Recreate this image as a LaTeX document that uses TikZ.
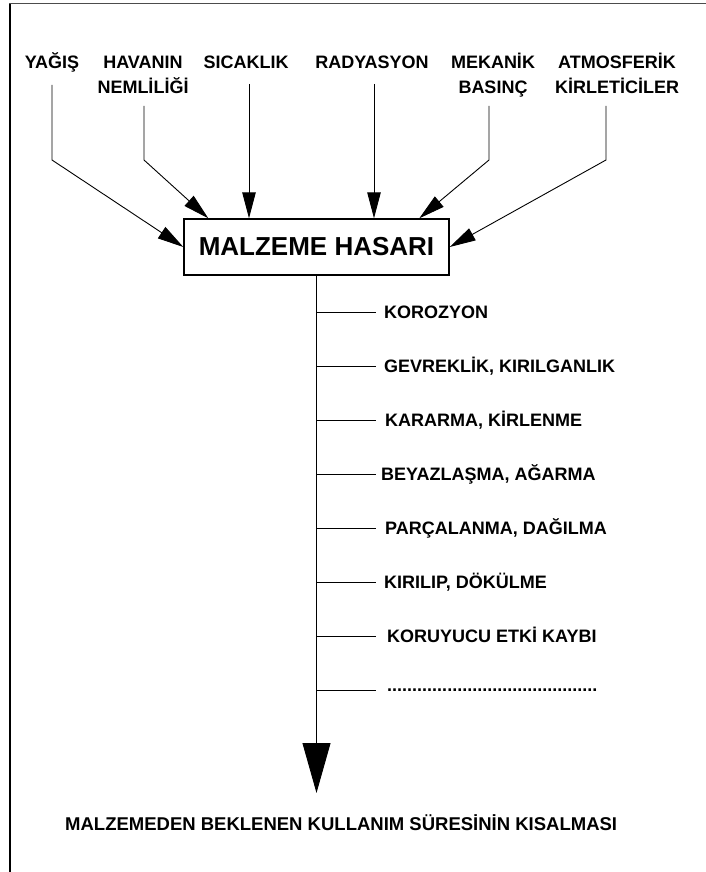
\documentclass[tikz,border=0pt]{standalone}
\usepackage{fontspec}
\setmainfont{Liberation Sans}
\usetikzlibrary{arrows.meta}
\newcommand\tstrut{\rule{0pt}{18pt}}
\begin{document}
\begin{tikzpicture}[x=1pt,y=-1pt,
  toplbl/.style={anchor=north, align=center, inner sep=0pt, font=\fontsize{18}{25}\selectfont\bfseries},
  sidelbl/.style={anchor=west, inner sep=0pt, text height=13pt, text depth=0pt, font=\fontsize{18}{22}\selectfont\bfseries},
  conn/.style={line width=0.9pt, -{Triangle[length=26pt,width=13.5pt]}},
  bigconn/.style={line width=0.9pt, -{Triangle[length=50pt,width=28pt]}},
  branch/.style={line width=0.9pt},
  mainbox/.style={draw, line width=1.4pt, minimum width=265pt, minimum height=56pt, inner sep=0pt, font=\fontsize{26}{30}\selectfont\bfseries},
]
\useasboundingbox (0,0) rectangle (706,872);
% frame
\draw[line width=1.2pt] (10,872) -- (10,3.5);
\draw[line width=1.5pt, black!70] (9.4,3.5) -- (706,3.5);

% top labels
\node[toplbl] (yagis) at (52,50) {\tstrut YAĞIŞ};
\node[toplbl] (havanin) at (143,50) {\tstrut HAVANIN\\NEMLİLİĞİ};
\node[toplbl] (sicaklik) at (246,50) {\tstrut SICAKLIK};
\node[toplbl] (radyasyon) at (372,50) {\tstrut RADYASYON};
\node[toplbl] (mekanik) at (493,50) {\tstrut MEKANİK\\BASINÇ};
\node[toplbl] (atmos) at (617,50) {\tstrut ATMOSFERİK\\KİRLETİCİLER};

% central box
\node[mainbox] (box) at (316.5,247) {MALZEME HASARI};

% line starts and bends
\coordinate (ya) at (52,85);   \coordinate (yb) at (52,160);
\coordinate (ha) at (144,106); \coordinate (hb) at (144,160);
\coordinate (sa) at (249,84);
\coordinate (ra) at (374,84);
\coordinate (ma) at (489,106); \coordinate (mb) at (489,160);
\coordinate (aa) at (606,106); \coordinate (ab) at (606,160);

\draw[conn] (ya) -- (yb) -- (box.west);
\draw[conn] (ha) -- (hb) -- ([xshift=25pt]box.north west);
\draw[conn] (sa) -- (sa |- box.north);
\draw[conn] (ra) -- (ra |- box.north);
\draw[conn] (ma) -- (mb) -- ([xshift=236pt]box.north west);
\draw[conn] (aa) -- (ab) -- (box.east);

% stem
\coordinate (tip) at (316.5,793);
\draw[bigconn] (box.south) -- (tip);

% side labels
\node[sidelbl] (k1) at (384,312) {KOROZYON};
\node[sidelbl] (k2) at (384,366) {GEVREKLİK, KIRILGANLIK};
\node[sidelbl] (k3) at (385,420) {KARARMA, KİRLENME};
\node[sidelbl] (k4) at (381,474) {BEYAZLAŞMA, AĞARMA};
\node[sidelbl] (k5) at (385,528) {PARÇALANMA, DAĞILMA};
\node[sidelbl] (k6) at (384,582) {KIRILIP, DÖKÜLME};
\node[sidelbl] (k7) at (387,636) {KORUYUCU ETKİ KAYBI};
\node[sidelbl, text height=3pt] (k8) at (387,690) {..........................................};

\foreach \k in {k1,k2,k3,k4,k5,k6,k7,k8}
  \draw[branch] (box.south |- \k.west) -- ++(59.5,0);

% result
\node[anchor=base west, inner sep=0pt, font=\fontsize{18.5}{22}\selectfont\bfseries] (result) at (65,830) {MALZEMEDEN BEKLENEN KULLANIM SÜRESİNİN KISALMASI};
\end{tikzpicture}
\end{document}
